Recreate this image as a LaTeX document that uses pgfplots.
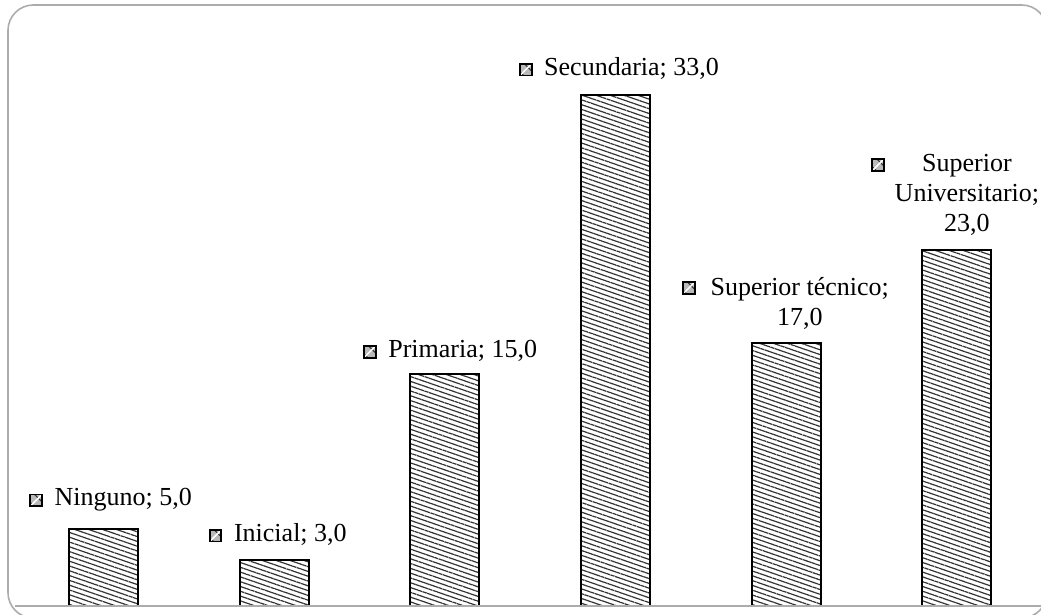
\documentclass[border=0pt]{standalone}
\usepackage{fontspec}
\setmainfont{Liberation Serif}
\usepackage{pgfplots}
\pgfplotsset{compat=1.18}
\usetikzlibrary{patterns.meta}
\newcommand{\keybox}{\tikz[baseline=-0.45ex]{\fill[gray!55] (-4.4pt,-4.4pt) rectangle (4.4pt,4.4pt);
  \draw[black!80,line width=0.8pt] (-4.4pt,-1.5pt) -- (-1.5pt,-4.4pt);
  \draw[black!80,line width=0.8pt] (-1pt,4.4pt) -- (4.4pt,-1pt);
  \draw[white,line width=1.1pt] (-3.8pt,-3.8pt) -- (3.8pt,3.8pt);
  \draw[black,line width=1.4pt] (-4.4pt,-4.4pt) rectangle (4.4pt,4.4pt);}}
\begin{document}
\begin{tikzpicture}
\useasboundingbox (0,0) rectangle (780.75pt,460.5pt);
\draw[gray!65,line width=1.2pt,rounded corners=19pt] (6pt,-3pt) rectangle (785.25pt,456.75pt);
\begin{axis}[
  at={(11.25pt,6pt)}, anchor=south west,
  scale only axis, width=770.25pt, height=418pt,
  xmin=-0.52, xmax=5.5, ymin=0, ymax=36,
  hide axis, clip=false,
  ybar, bar width=51.75pt,
  nodes={font=\fontsize{19.5}{22.5}\selectfont},
]
\addplot[draw=black, line width=1.5pt,
  pattern={Lines[angle=-19, distance=3.4pt, line width=0.9pt]}, pattern color=black!80]
  coordinates {(0,5) (1,3) (2,15) (3,33) (4,17) (5,23)};
\draw[gray!65,line width=1.6pt] (axis cs:-0.52,0) -- (axis cs:5.5,0);
\node at (axis cs:0.04,6.85) {\keybox\hspace{0.45em}Ninguno; 5,0};
\node at (axis cs:1.02,4.65) {\keybox\hspace{0.45em}Inicial; 3,0};
\node at (axis cs:2.03,16.5) {\keybox\hspace{0.45em}Primaria; 15,0};
\node at (axis cs:3.02,34.75) {\keybox\hspace{0.45em}Secundaria; 33,0};
\node[align=center] at (axis cs:4.08,19.57) {Superior técnico;\\17,0};
\node at (axis cs:3.43,20.54) {\keybox};
\node[align=center] at (axis cs:5.06,26.55) {Superior\\Universitario;\\23,0};
\node at (axis cs:4.54,28.5) {\keybox};
\end{axis}
\end{tikzpicture}
\end{document}
